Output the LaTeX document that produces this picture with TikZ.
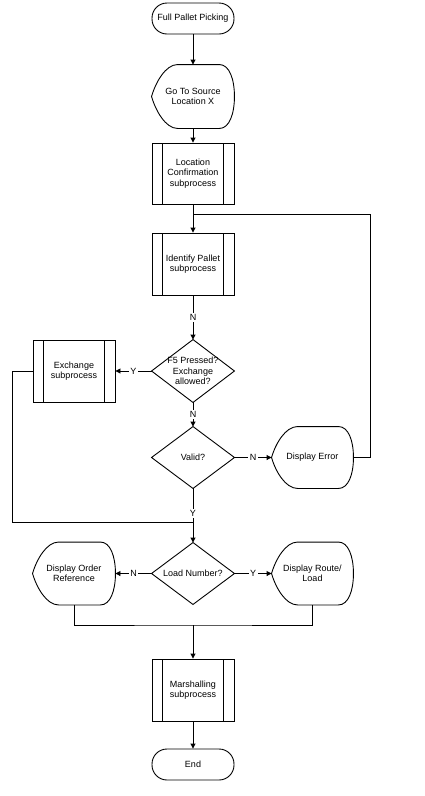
\documentclass[tikz,border=0pt]{standalone}
\usepackage{fontspec}
\setmainfont{Liberation Sans}
\usetikzlibrary{arrows.meta,calc}
\newcommand\dispshape[1]{%
 \draw (#1.west) .. controls ($(#1.west)+(4,-14)$) and ($(#1.north west)+(14,0)$) .. ($(#1.north west)+(26,0)$)
   -- ($(#1.north east)+(-15,0)$) .. controls ($(#1.north east)+(-5,0)$) and ($(#1.east)+(0,-17)$) .. (#1.east)
   .. controls ($(#1.east)+(0,17)$) and ($(#1.south east)+(-5,0)$) .. ($(#1.south east)+(-15,0)$)
   -- ($(#1.south west)+(26,0)$) .. controls ($(#1.south west)+(14,0)$) and ($(#1.west)+(4,14)$) .. (#1.west);}
\newcommand\diashape[1]{\draw (#1.north) -- (#1.east) -- (#1.south) -- (#1.west) -- cycle;}
\begin{document}
\begin{tikzpicture}[x=1pt,y=-1pt, line width=0.9pt,
  every node/.style={font=\fontsize{9}{10.5}\selectfont, align=center, inner sep=0pt},
  box/.style={minimum width=82pt, minimum height=62pt},
  term/.style={draw, rectangle, rounded corners=15pt, minimum width=82pt, minimum height=31pt},
  subproc/.style={draw, box, path picture={
     \draw ([xshift=10.5pt]path picture bounding box.north west) -- ([xshift=10.5pt]path picture bounding box.south west);
     \draw ([xshift=-10.5pt]path picture bounding box.north east) -- ([xshift=-10.5pt]path picture bounding box.south east);}},
  arr/.style={-{Triangle[length=5pt,width=5pt]}},
  lbl/.style={fill=white, inner sep=1.5pt}
]
\useasboundingbox[fill=white] (0,0) rectangle (424,796);

\node[term] (start) at (193,18.5) {Full Pallet Picking};
\node[box, minimum height=63pt] (goto) at (193,96.5) {Go To Source\\Location X};
\dispshape{goto}
\node[subproc, minimum height=61pt] (loc) at (193,173.5) {Location\\Confirmation\\subprocess};
\node[subproc] (ident) at (193,264) {Identify Pallet\\subprocess};
\node[box] (dia1) at (193,371) {F5 Pressed?\\Exchange\\allowed?};
\diashape{dia1}
\node[subproc] (exch) at (74,371) {Exchange\\subprocess};
\node[box, minimum height=61pt] (valid) at (193,457.5) {Valid?};
\diashape{valid}
\node[box, minimum width=81pt, minimum height=61pt] (derr) at (312.5,457.5) {Display Error};
\dispshape{derr}
\node[box, minimum height=61pt] (load) at (193,573.5) {Load Number?};
\diashape{load}
\node[box] (dord) at (74,573.5) {Display Order\\Reference};
\dispshape{dord}
\node[box, minimum width=81pt] (droute) at (312.5,573.5) {Display Route/\\Load};
\dispshape{droute}
\node[subproc] (marsh) at (193,690) {Marshalling\\subprocess};
\node[term] (end) at (193,764.5) {End};

\draw[arr] (start) -- (goto);
\draw[arr] (goto) -- (loc);
\draw[arr] (loc) -- (ident);
\coordinate (r1) at (370,214);
\draw (derr.east) -| (r1) -- (ident.north |- r1);
\draw[arr] (ident) -- node[lbl]{N} (dia1);
\draw[arr] (dia1.west) -- node[lbl]{Y} (exch.east);
\draw[arr] (dia1) -- node[lbl]{N} (valid);
\draw[arr] (valid.east) -- node[lbl]{N} (derr.west);
\draw[arr] (valid) -- node[lbl,pos=0.47]{Y} (load);
\coordinate (l1) at (12,522);
\draw (exch.west) -| (l1) -- (load.north |- l1);
\draw[arr] (load.west) -- node[lbl]{N} (dord.east);
\draw[arr] (load.east) -- node[lbl]{Y} (droute.west);
\coordinate (m1) at (193,625);
\draw (dord.south) |- (m1) -| (droute.south);
\draw[arr] (m1) -- (marsh);
\draw[arr] (marsh) -- (end);
\end{tikzpicture}
\end{document}
